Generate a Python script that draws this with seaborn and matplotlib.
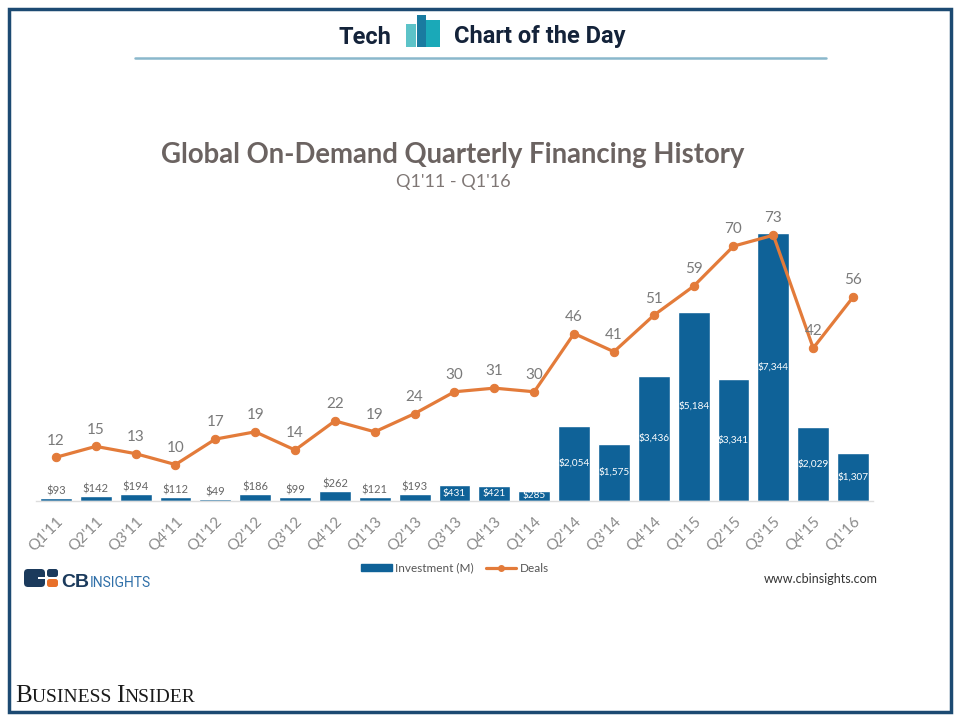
import numpy as np
import pandas as pd
import matplotlib
matplotlib.use("Agg")
import matplotlib.pyplot as plt
import matplotlib.transforms as mtransforms
import seaborn as sns
from matplotlib.patches import Patch, Rectangle, FancyBboxPatch
from matplotlib.lines import Line2D

quarters = ["Q1'11", "Q2'11", "Q3'11", "Q4'11", "Q1'12", "Q2'12", "Q3'12", "Q4'12",
            "Q1'13", "Q2'13", "Q3'13", "Q4'13", "Q1'14", "Q2'14", "Q3'14", "Q4'14",
            "Q1'15", "Q2'15", "Q3'15", "Q4'15", "Q1'16"]
investment = [93, 142, 194, 112, 49, 186, 99, 262, 121, 193, 431, 421, 285,
              2054, 1575, 3436, 5184, 3341, 7344, 2029, 1307]
deals = [12, 15, 13, 10, 17, 19, 14, 22, 19, 24, 30, 31, 30, 46, 41, 51, 59, 70, 73, 42, 56]

BLUE = "#0f6298"
ORANGE = "#e37b3a"
GRAY = "#7a7a7a"
NAVY = "#1c4a72"

sns.set_theme(style="white")
plt.rcParams['font.family'] = ['Lato', 'DejaVu Sans']

W, H = 960, 720
fig = plt.figure(figsize=(9.6, 7.2), dpi=100)

df = pd.DataFrame({"quarter": quarters, "investment": investment, "deals": deals})

ax = fig.add_axes([36 / W, 1 - 501 / H, 837 / W, 292 / H])
sns.barplot(data=df, x="quarter", y="investment", color=BLUE, saturation=1,
            width=0.8, ax=ax)
ax.set_ylim(0, 8000)
ax.set_xlim(-0.5, len(quarters) - 0.5)
ax.set_xlabel("")
ax.set_ylabel("")
ax.set_yticks([])
for s in ["top", "right", "left"]:
    ax.spines[s].set_visible(False)
ax.spines["bottom"].set_color("#dddddd")
ax.spines["bottom"].set_linewidth(1)
ax.tick_params(axis="x", length=0, pad=13)
ax.set_xticks(range(len(quarters)))
ax.set_xticklabels(quarters, rotation=45, ha="right", va="center",
                   rotation_mode="anchor", fontsize=11, color="#8a8a8a")
offset = mtransforms.ScaledTranslation(0.05, 0, fig.dpi_scale_trans)
for lbl in ax.get_xticklabels():
    lbl.set_transform(lbl.get_transform() + offset)

for i, v in enumerate(investment):
    txt = f"${v:,}"
    if v >= 280:
        ax.text(i, v / 2, txt, ha="center", va="center", color="white", fontsize=7.2)
    else:
        ax.text(i, v + 40, txt, ha="center", va="bottom", color="#666666", fontsize=8)

ax2 = ax.twinx()
sns.lineplot(x=np.arange(len(deals)), y=deals, ax=ax2, color=ORANGE, linewidth=2.3,
             marker="o", markersize=6, markeredgecolor=ORANGE)
ax2.set_ylim(0, 80.2)
ax2.set_yticks([])
for s in ["top", "right", "left", "bottom"]:
    ax2.spines[s].set_visible(False)
for i, d in enumerate(deals):
    ax2.annotate(str(d), (i, d), xytext=(0, 7), textcoords="offset points",
                 ha="center", va="bottom", fontsize=11, color=GRAY)

# Titles
fig.text(453 / W, 1 - 155 / H, "Global On-Demand Quarterly Financing History",
         ha="center", va="center", fontsize=19.8, fontweight="bold", color="#6b6361")
fig.text(453 / W, 1 - 182 / H, "Q1'11 - Q1'16", ha="center", va="center",
         fontsize=13, color="#7f7775")

# Legend
handles = [Patch(facecolor=BLUE, edgecolor=BLUE, label="Investment (M)"),
           Line2D([0], [0], color=ORANGE, lw=2.3, marker="o", markersize=4, label="Deals")]
leg = fig.legend(handles=handles, loc="center", bbox_to_anchor=(455 / W, 1 - 568 / H),
                 ncol=2, frameon=False, fontsize=8.5, handlelength=2.6, handleheight=0.6,
                 columnspacing=1.0, handletextpad=0.3)
for t in leg.get_texts():
    t.set_color("#555555")

# Overlay for decorations (pixel coords)
ov = fig.add_axes([0, 0, 1, 1], zorder=-1)
ov.set_xlim(0, W)
ov.set_ylim(H, 0)
ov.axis("off")
ov.add_patch(Rectangle((8.5, 8.5), 942, 703, fill=False, edgecolor=NAVY, linewidth=2.5))
ov.plot([135, 826], [57.5, 57.5], color="#8ab8cc", linewidth=1.8)
# header icon
ov.add_patch(Rectangle((406, 24), 10, 23, color="#5cc3c8", linewidth=0))
ov.add_patch(Rectangle((426, 20), 14, 27, color="#1aa9b8", linewidth=0))
ov.add_patch(Rectangle((417, 15), 9, 32, color="#1a7ba0", linewidth=0))
hdr = ["Roboto", "DejaVu Sans"]
ov.text(391, 37, "Tech", ha="right", va="center", fontsize=17, fontweight="bold",
        color="#14233a", family=hdr)
ov.text(454, 37, "Chart of the Day", ha="left", va="center", fontsize=17,
        fontweight="bold", color="#14233a", family=hdr)

# CB Insights logo
ov.add_patch(FancyBboxPatch((24, 569), 21, 18, boxstyle="round,pad=0,rounding_size=4",
                            color="#1b3a5c", linewidth=0))
ov.add_patch(Rectangle((38, 577), 8, 2, color="white", linewidth=0, zorder=3))
ov.add_patch(FancyBboxPatch((47, 569), 11, 8, boxstyle="round,pad=0,rounding_size=2.5",
                            color="#1b3a5c", linewidth=0))
ov.add_patch(FancyBboxPatch((47, 579), 11, 8, boxstyle="round,pad=0,rounding_size=2.5",
                            color="#e8702a", linewidth=0))

fig.canvas.draw()
renderer = fig.canvas.get_renderer()
cb = ov.text(61, 587, "CB", ha="left", va="baseline", fontsize=14, fontweight="bold",
             color="#1b3a5c", family=["Liberation Sans", "DejaVu Sans"])
cbw = cb.get_window_extent(renderer=renderer).width
ov.text(61 + cbw + 1, 587, "INSIGHTS", ha="left", va="baseline", fontsize=10,
        color="#2f6fa8", family=["Roboto", "DejaVu Sans"])
ov.text(821, 579, "www.cbinsights.com", ha="center", va="center", fontsize=9,
        color="#333333")

# Business Insider small caps
serif = ["Liberation Serif", "DejaVu Serif"]
pieces = [("B", 18), ("USINESS ", 14), ("I", 18), ("NSIDER", 14)]
x = 15
for s, fs in pieces:
    t = ov.text(x, 702, s, ha="left", va="baseline", fontsize=fs, color="#1a1a1a",
                family=serif)
    bb = t.get_window_extent(renderer=renderer)
    x += bb.width

fig.savefig("out.png", dpi=100)
